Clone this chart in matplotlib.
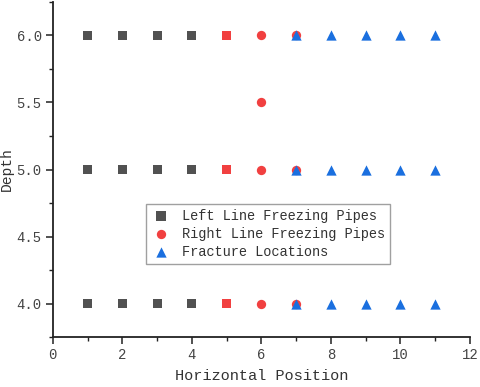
import matplotlib
matplotlib.use("Agg")
import matplotlib.pyplot as plt
from matplotlib.ticker import MultipleLocator, FormatStrFormatter

depths = [4.0, 5.0, 6.0]
left_x = [1, 2, 3, 4, 5]
right_x = [5, 6, 7]
right_extra_x = [6]
right_extra_y = [5.5]
frac_x = [7, 8, 9, 10, 11]

labels = ["Left Line Freezing Pipes", "Right Line Freezing Pipes", "Fracture Locations"]
c_grey = "#515151"
c_red = "#F14040"
c_blue = "#1A6FDF"

plt.rcParams['font.family'] = ['Liberation Mono', 'DejaVu Sans Mono']

fig = plt.figure(figsize=(4.8, 3.87), dpi=100)
ax = fig.add_axes([0.110, 0.129, 0.869, 0.866])

lx, ly, lc = [], [], []
for d in depths:
    for x in left_x:
        lx.append(x); ly.append(d)
        lc.append(c_red if x in right_x else c_grey)
rx, ry = [], []
for d in depths:
    for x in right_x:
        if x not in left_x:
            rx.append(x); ry.append(d)
rx += right_extra_x; ry += right_extra_y
fx, fy = [], []
for d in depths:
    for x in frac_x:
        fx.append(x); fy.append(d)

ax.scatter(lx, ly, marker='s', s=42, c=lc, linewidths=0, zorder=3)
ax.scatter(rx, ry, marker='o', s=45, c=c_red, linewidths=0, zorder=3)
ax.scatter(fx, fy, marker='^', s=55, c=c_blue, linewidths=0, zorder=4)

h1 = ax.scatter([], [], marker='s', s=42, c=c_grey, linewidths=0, label=labels[0])
h2 = ax.scatter([], [], marker='o', s=45, c=c_red, linewidths=0, label=labels[1])
h3 = ax.scatter([], [], marker='^', s=55, c=c_blue, linewidths=0, label=labels[2])

ax.set_xlim(0, 12)
ax.set_ylim(3.75, 6.25)
ax.xaxis.set_major_locator(MultipleLocator(2))
ax.xaxis.set_minor_locator(MultipleLocator(1))
ax.yaxis.set_major_locator(MultipleLocator(0.5))
ax.yaxis.set_minor_locator(MultipleLocator(0.25))
ax.yaxis.set_major_formatter(FormatStrFormatter('%.1f'))

for s in ['top', 'right']:
    ax.spines[s].set_visible(False)
for s in ['left', 'bottom']:
    ax.spines[s].set_linewidth(1.3)
    ax.spines[s].set_color('#222222')

ax.tick_params(which='major', direction='out', length=5, width=1.1, labelsize=10,
               colors='#222222', labelcolor='#444444', pad=3)
ax.tick_params(which='minor', direction='out', length=3, width=1.0, colors='#222222')

ax.set_xlabel("Horizontal Position", fontsize=11, color='#333333', labelpad=5)
ax.set_ylabel("Depth", fontsize=10.5, color='#333333', labelpad=2)

leg = ax.legend(handles=[h1, h2, h3], loc='upper left', bbox_to_anchor=(0.223, 0.397),
                fontsize=9.8, frameon=True, fancybox=False, edgecolor='#888888',
                handletextpad=0.8, borderpad=0.35, labelspacing=0.3, handlelength=1.5,
                borderaxespad=0)
leg.get_frame().set_linewidth(1.0)
for t in leg.get_texts():
    t.set_color('#333333')

fig.savefig("out.png", dpi=100)
